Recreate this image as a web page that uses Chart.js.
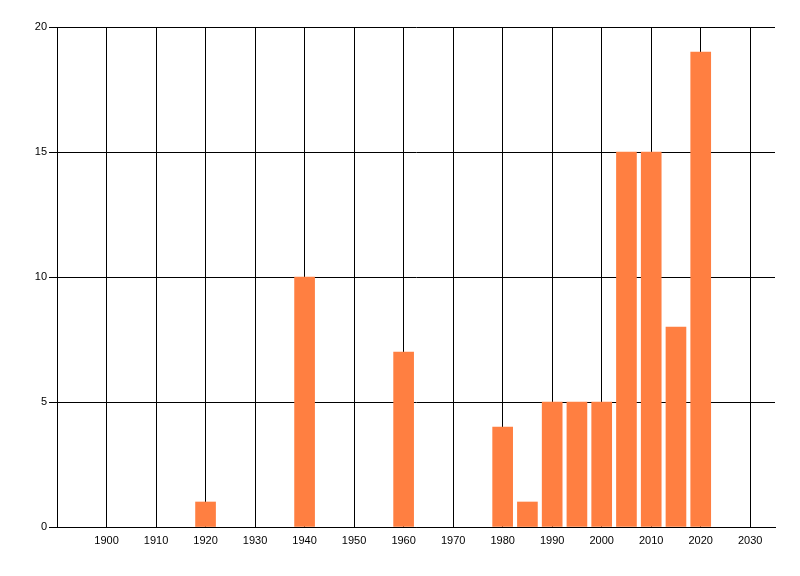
<!DOCTYPE html>
<html>
<head>
<meta charset="utf-8">
<script src="https://cdn.jsdelivr.net/npm/chart.js@4/dist/chart.umd.min.js"></script>
<style>
  html, body { margin: 0; padding: 0; background: #fff; }
  canvas { display: block; }
</style>
</head>
<body>
<canvas id="chart" width="800" height="576"></canvas>
<script>
const years  = [1920, 1940, 1960, 1980, 1985, 1990, 1995, 2000, 2005, 2010, 2015, 2020];
const counts = [1, 10, 7, 4, 1, 5, 5, 5, 15, 15, 8, 19];
const xTicks = [1900, 1910, 1920, 1930, 1940, 1950, 1960, 1970, 1980, 1990, 2000, 2010, 2020, 2030];
const yTicks = [0, 5, 10, 15, 20];

const font = { family: '"Liberation Sans", Arial, sans-serif', size: 11 };

new Chart(document.getElementById('chart'), {
  type: 'bar',
  data: {
    datasets: [{
      data: years.map((y, i) => ({ x: y, y: counts[i] })),
      backgroundColor: '#FF7F41',
      barThickness: 20
    }]
  },
  options: {
    responsive: false,
    animation: false,
    layout: { padding: { top: 27, right: 25, left: 0, bottom: 0 } },
    plugins: { legend: { display: false }, tooltip: { enabled: false } },
    scales: {
      x: {
        type: 'linear',
        min: 1890,
        max: 2035,
        offset: false,
        afterBuildTicks: s => { s.ticks = xTicks.map(v => ({ value: v })); },
        afterFit: s => { s.height = 49; },
        grid: { color: '#000', lineWidth: 1, drawTicks: false, offset: false },
        border: { color: '#000', width: 1 },
        ticks: { color: '#000', font, padding: 7, maxRotation: 0, autoSkip: false, callback: v => String(v) }
      },
      y: {
        min: 0,
        max: 20,
        afterBuildTicks: s => { s.ticks = yTicks.map(v => ({ value: v })); },
        afterFit: s => { s.width = 57; },
        grid: { color: '#000', lineWidth: 1, tickLength: 8 },
        border: { color: '#000', width: 1 },
        ticks: { color: '#000', font, padding: 2 }
      }
    }
  }
});
</script>
</body>
</html>
